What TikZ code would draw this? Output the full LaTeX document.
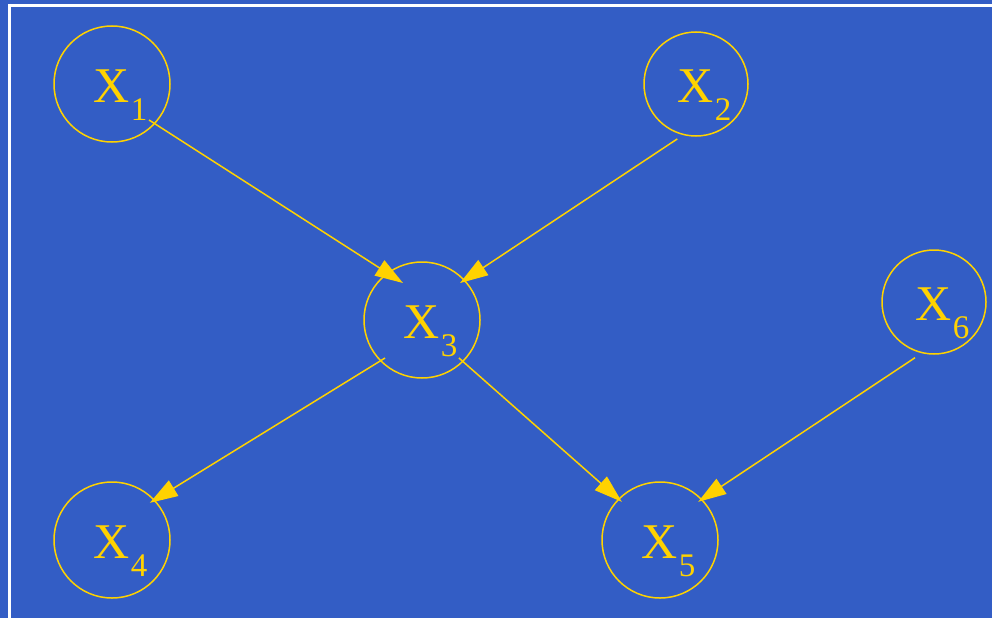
\documentclass[tikz,border=0pt]{standalone}
\usepackage{fontspec}
\setmainfont{Liberation Serif}
\usetikzlibrary{calc,arrows.meta}
\definecolor{bgblue}{RGB}{51,93,197}
\definecolor{gold}{RGB}{255,210,0}
\newcommand{\xlbl}[1]{\hspace*{17pt}\fontsize{50}{50}\selectfont X\hspace{1pt}\raisebox{-18pt}{\fontsize{33}{33}\selectfont #1}}
\tikzset{
  varnode/.style={circle, draw=gold, line width=1.5pt, text=gold, inner sep=0pt,
    text height=37pt, text depth=0pt, align=left},
  bigvar/.style={varnode, minimum size=116pt},
  smallvar/.style={varnode, minimum size=104pt},
  edge/.style={draw=gold, line width=1.5pt, -{Triangle[length=28pt,width=18pt]}},
}
\begin{document}
\begin{tikzpicture}[x=1pt,y=-1pt]
\useasboundingbox (0,0) rectangle (992,618);
\fill[bgblue] (0,0) rectangle (992,618);
\draw[white, line width=3pt] (8,5.5) -- (992,5.5);
\draw[white, line width=3pt] (9.5,4) -- (9.5,618);

\node[bigvar] (X1) at (112,84) {\xlbl{1}};
\node[smallvar] (X2) at (696,84) {\xlbl{2}};
\node[bigvar] (X3) at (422,320) {\xlbl{3}};
\node[smallvar] (X6) at (934,302) {\xlbl{6}};
\node[bigvar] (X4) at (112,540) {\xlbl{4}};
\node[bigvar] (X5) at (660,540) {\xlbl{5}};

\draw[edge] ($(X1)+(44.2:51.6)$) -- ($(X3)+(-117.2:41.6)$);
\draw[edge] ($(X2)+(108.8:58)$) -- ($(X3)+(-44.2:53)$);
\draw[edge] ($(X3)+(134.2:53)$) -- ($(X4)+(-44.5:53)$);
\draw[edge] ($(X3)+(45.8:53)$) -- ($(X5)+(-135:54)$);
\draw[edge] ($(X6)+(108.8:58.8)$) -- ($(X5)+(-45:54)$);
\end{tikzpicture}
\end{document}
